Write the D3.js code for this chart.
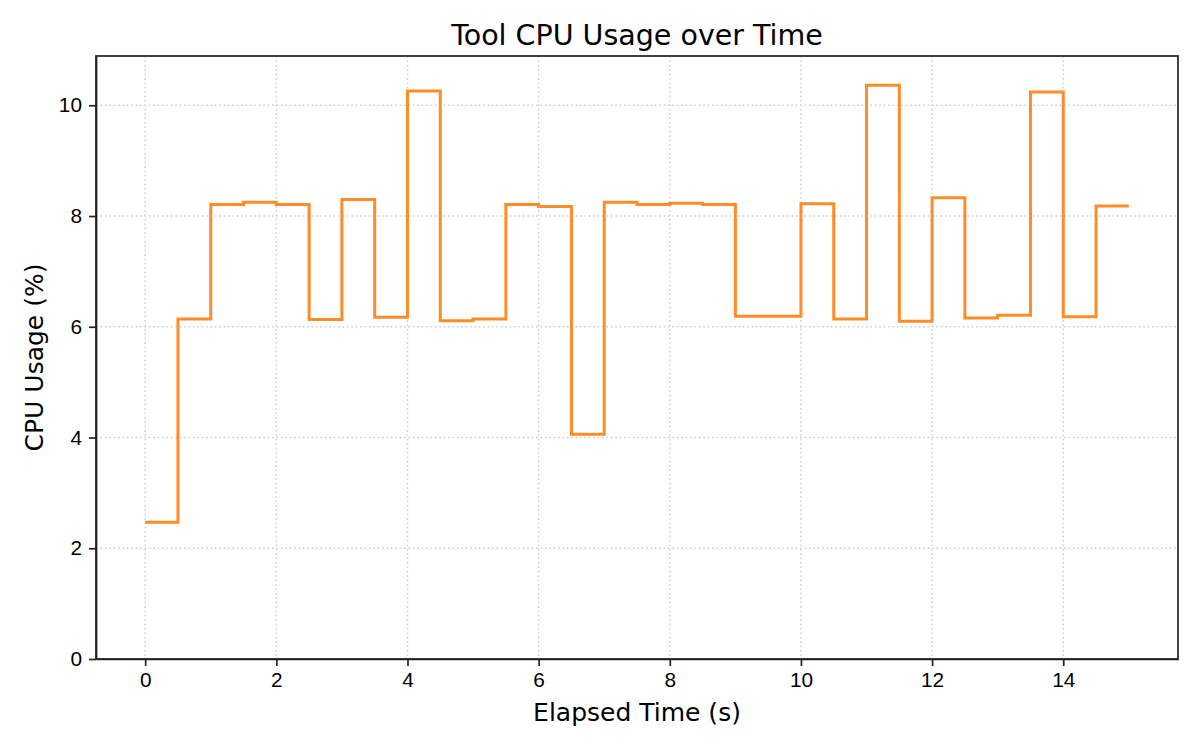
<!DOCTYPE html>
<html>
<head>
<meta charset="utf-8">
<script src="https://cdn.jsdelivr.net/npm/d3@7"></script>
<style>
  body { margin: 0; background: #fff; }
  svg { font-family: "DejaVu Sans", sans-serif; }
  .grid line { stroke: #cfcfcf; stroke-width: 1.4; stroke-dasharray: 1.7,2.7; }
  .axis path, .axis line { stroke: #222; stroke-width: 1.7; }
  .axis text { fill: #000; font-size: 20.8px; }
</style>
</head>
<body>
<div id="chart"></div>
<script>
var times = [0, 0.5, 1, 1.5, 2, 2.5, 3, 3.5, 4, 4.5, 5, 5.5, 6, 6.5, 7, 7.5,
             8, 8.5, 9, 9.5, 10, 10.5, 11, 11.5, 12, 12.5, 13, 13.5, 14, 14.5, 15];
var cpuUsage = [2.47, 6.14, 8.21, 8.25, 8.21, 6.13, 8.30, 6.17, 10.26, 6.11, 6.14, 8.21, 8.17, 4.06, 8.25, 8.21,
                8.23, 8.21, 6.19, 6.19, 8.22, 6.14, 10.36, 6.10, 8.33, 6.16, 6.21, 10.24, 6.18, 8.18, 8.18];
var xTicks = [0, 2, 4, 6, 8, 10, 12, 14];
var yTicks = [0, 2, 4, 6, 8, 10];

var margin = { top: 56, right: 22, bottom: 91, left: 96 },
    width = 1200 - margin.left - margin.right,
    height = 750 - margin.top - margin.bottom;

var svg = d3.select("#chart")
    .append("svg")
    .attr("width", 1200)
    .attr("height", 750);

var g = svg.append("g")
    .attr("transform", "translate(" + margin.left + "," + margin.top + ")");

var x = d3.scaleLinear()
    .domain([-0.75, 15.75])
    .range([0, width]);

var y = d3.scaleLinear()
    .domain([0, 10.89])
    .range([height, 0]);

// grid
g.append("g")
    .attr("class", "grid")
    .selectAll("line.vx")
    .data(xTicks)
    .enter().append("line")
    .attr("x1", function (d) { return x(d); })
    .attr("x2", function (d) { return x(d); })
    .attr("y1", 0)
    .attr("y2", height);

g.append("g")
    .attr("class", "grid")
    .selectAll("line.hy")
    .data(yTicks)
    .enter().append("line")
    .attr("x1", 0)
    .attr("x2", width)
    .attr("y1", function (d) { return y(d); })
    .attr("y2", function (d) { return y(d); });

// step line
var cpuLine = d3.line()
    .curve(d3.curveStepAfter)
    .x(function (d, i) { return x(times[i]); })
    .y(function (d) { return y(d); });

g.append("path")
    .datum(cpuUsage)
    .attr("fill", "none")
    .attr("stroke", "#ff8c26")
    .attr("stroke-width", 3)
    .attr("stroke-linejoin", "miter")
    .attr("d", cpuLine);

// axes
g.append("g")
    .attr("class", "axis")
    .attr("transform", "translate(0," + height + ")")
    .call(d3.axisBottom(x).tickValues(xTicks).tickSize(7).tickPadding(6).tickSizeOuter(0).tickFormat(d3.format("d")));

g.append("g")
    .attr("class", "axis")
    .call(d3.axisLeft(y).tickValues(yTicks).tickSize(7).tickPadding(7).tickSizeOuter(0).tickFormat(d3.format("d")));

// frame
g.append("rect")
    .attr("x", 0)
    .attr("y", 0)
    .attr("width", width)
    .attr("height", height)
    .attr("fill", "none")
    .attr("stroke", "#222")
    .attr("stroke-width", 1.7);

// title and labels
svg.append("text")
    .attr("x", margin.left + width / 2)
    .attr("y", 45)
    .attr("text-anchor", "middle")
    .style("font-size", "28.5px")
    .text("Tool CPU Usage over Time");

svg.append("text")
    .attr("x", margin.left + width / 2)
    .attr("y", 721)
    .attr("text-anchor", "middle")
    .style("font-size", "25px")
    .text("Elapsed Time (s)");

svg.append("text")
    .attr("transform", "translate(43," + (margin.top + height / 2) + ") rotate(-90)")
    .attr("text-anchor", "middle")
    .style("font-size", "25px")
    .text("CPU Usage (%)");
</script>
</body>
</html>
